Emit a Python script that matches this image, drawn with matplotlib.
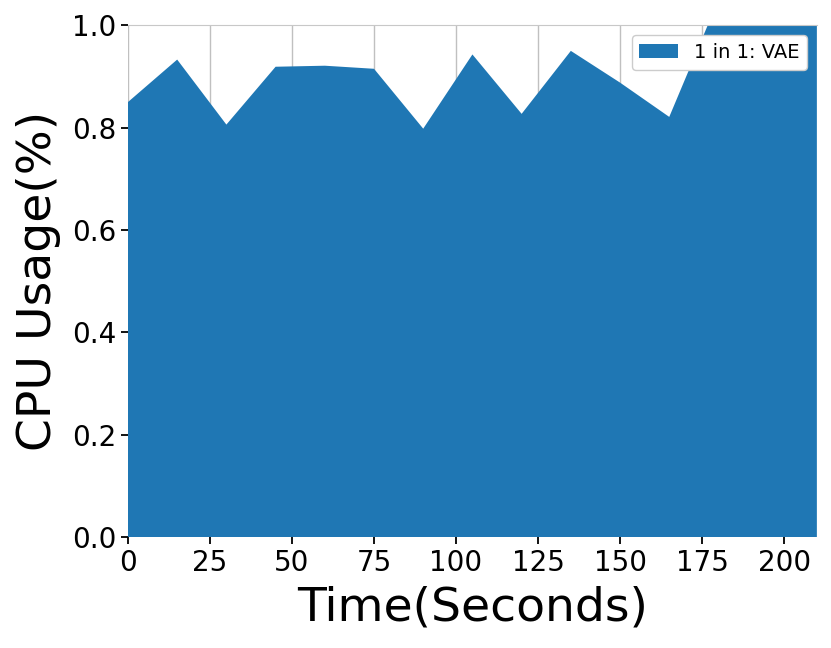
import matplotlib
matplotlib.use('Agg')
import matplotlib.pyplot as plt

# CPU usage samples (every 15 s)
time_s = [0, 15, 30, 45, 60, 75, 90, 105, 120, 135, 150, 165, 180, 195, 210]
cpu_usage = [0.850, 0.933, 0.806, 0.919, 0.921, 0.915, 0.798, 0.943,
             0.827, 0.950, 0.888, 0.821, 1.05, 1.06, 1.05]
series_label = '1 in 1: VAE'

fig = plt.figure(figsize=(8.31, 6.48), dpi=100)
ax = fig.add_axes([0.154, 0.171, 0.829, 0.790])

ax.stackplot(time_s, cpu_usage, labels=[series_label], colors=['#1f77b4'], zorder=2)

ax.set_xlim(0, 210)
ax.set_ylim(0, 1.0)
ax.set_xticks([0, 25, 50, 75, 100, 125, 150, 175, 200])
ax.set_yticks([0.0, 0.2, 0.4, 0.6, 0.8, 1.0])

ax.grid(axis='x', color='#c0c0c0', linewidth=1.0, zorder=0)
ax.set_axisbelow(True)
for side in ['left', 'right', 'bottom']:
    ax.spines[side].set_visible(False)
ax.spines['top'].set_color('#c8c8c8')

ax.tick_params(axis='both', labelsize=20, length=5, width=1.3, color='black')
ax.set_xlabel('Time(Seconds)', fontsize=34, labelpad=6)
ax.set_ylabel('CPU Usage(%)', fontsize=34, labelpad=8)

ax.legend(loc='upper right', fontsize=14, framealpha=1.0, edgecolor='#cccccc')

fig.savefig('out.png', dpi=100)
